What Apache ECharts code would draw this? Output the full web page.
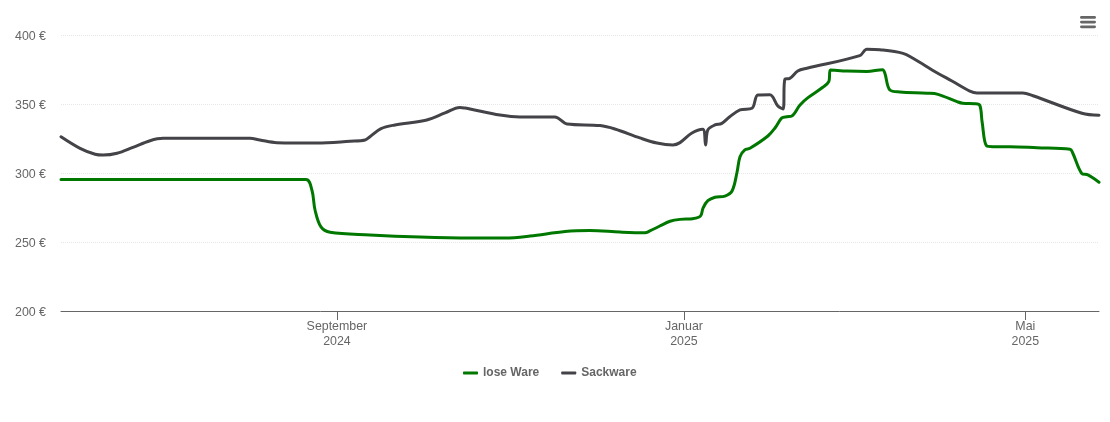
<!DOCTYPE html>
<html>
<head>
<meta charset="utf-8">
<title>Preisverlauf</title>
<script src="https://cdn.jsdelivr.net/npm/echarts@6/dist/echarts.min.js"></script>
<style>
html,body{margin:0;padding:0;background:#fff;}
#chart{width:1110px;height:422px;}
</style>
</head>
<body>
<div id="chart"></div>
<script>
// x values are days counted from 2024-05-27, the left edge of the chart
var rangeDays = 364.9;

var looseDays = [0,86.1,88.2,89.3,91.4,94.6,108.6,126.2,143.8,156.1,164.9,177.2,185.9,196.5,205.3,207,210.5,214.1,217.6,222.1,224.8,225.7,227.4,229.9,233.4,235.9,237.6,238.7,240.4,242.2,248.5,251,253.4,255.2,256.9,259.8,262.6,267.8,269.9,270.5,276.3,283.3,288.8,289.6,291.4,294.9,304.4,308.3,315,317,321.3,323,323.8,325.4,327.6,333.6,343.1,354.7,355.7,358.8,361,364.9];
var looseValues = [295.3,295.3,287.7,273.2,260.9,257,255.1,253.6,252.9,252.9,254.3,257.6,258.3,257.2,256.7,258,261.6,265,266.4,266.9,268.8,274.6,279.9,282.4,283.3,287,300,311.8,316.7,317.9,326.8,332.6,339.9,340.8,341.3,349.3,354.6,362.1,366.2,374.6,373.9,373.6,374.9,372.5,360.1,358.7,357.8,357,351.7,350.5,350.2,349,337.2,319.6,319.1,319.1,318.3,317.2,314.3,299.8,298.6,293.3];

var sackDays = [0,6.7,12,14.8,19.7,25.3,31.3,35.9,66.4,69.9,75.9,90,101.6,106.9,108.6,112.5,117.4,128.6,135,140.2,142,143.8,154.3,161.3,173.6,177.9,189.5,194.7,203.5,209.5,215.1,217.6,221.8,225.6,226.6,227.4,229.9,232.3,235.1,238.7,242.9,245,249.2,252,253.8,254.5,256.2,259,262.2,280.8,283.3,287.9,296,299.5,307.9,313.2,319.5,322,338.1,341.7,358.9,364.9];
var sackValues = [326.3,317.9,313.6,313,314.3,318.6,323.4,325.1,325.1,323.9,322,321.7,323,323.9,326.3,332.2,334.8,338.4,343.5,347.5,347.1,346.4,342,340.6,340.6,335.5,334.4,331.9,325.4,321.7,320.3,322,329,331.7,320.3,331.2,334.8,336,340.8,345.7,346.9,356.5,356.7,348.6,346.4,368.1,368.6,373.9,375.9,385.1,389.7,389.3,386.7,383.1,372.7,366.7,359.4,358,358,356,343.3,341.8];

// 1 Sep 2024, 1 Jan 2025, 1 May 2025
var tickDays = [97,219,339];
var tickMonths = ['September','Januar','Mai'];
var tickYears = ['2024','2025','2025'];

function toPoints(days,values){
	var out = [];
	for(var i = 0;i<days.length;i++){
		out.push([days[i],values[i]]);
	}
	return out;
}

function lineSeries(name,color,days,values){
	return {
		name:name,
		type:'line',
		data:toPoints(days,values),
		showSymbol:false,
		smooth:0.35,
		lineStyle:{width:3,color:color,cap:'round',join:'round'},
		itemStyle:{color:color}
	};
}

var myChart = echarts.init(document.getElementById('chart'),null,{renderer:'canvas'});
myChart.setOption({
	animation:false,
	textStyle:{fontFamily:'"Liberation Sans",Arial,sans-serif'},
	grid:{left:61,right:11,top:35,height:276,containLabel:false},
	legend:{
		left:458,
		top:362,
		itemWidth:15,
		itemHeight:3,
		itemGap:22,
		icon:'roundRect',
		textStyle:{color:'#666666',fontSize:12,fontWeight:'bold'},
		data:['lose Ware','Sackware']
	},
	toolbox:{
		padding:0,
		right:14,
		top:16,
		itemSize:16,
		feature:{
			myMenu:{
				show:true,
				title:'',
				icon:'path://M0 1.5A1.5 1.5 0 0 1 1.5 0H15.5A1.5 1.5 0 0 1 15.5 3H1.5A1.5 1.5 0 0 1 0 1.5ZM0 6.5A1.5 1.5 0 0 1 1.5 5H15.5A1.5 1.5 0 0 1 15.5 8H1.5A1.5 1.5 0 0 1 0 6.5ZM0 11.5A1.5 1.5 0 0 1 1.5 10H15.5A1.5 1.5 0 0 1 15.5 13H1.5A1.5 1.5 0 0 1 0 11.5Z',
				iconStyle:{color:'#666666',borderWidth:0},
				onclick:function(){}
			}
		}
	},
	xAxis:{
		type:'value',
		min:0,
		max:rangeDays,
		splitLine:{show:false},
		axisLine:{lineStyle:{color:'#666666',width:1}},
		axisTick:{show:true,length:9,lineStyle:{color:'#666666'},customValues:tickDays},
		axisLabel:{
			color:'#666666',
			fontSize:12.4,
			lineHeight:15,
			margin:8,
			hideOverlap:false,
			customValues:tickDays,
			formatter:function(value){
				var i = tickDays.indexOf(value);
				return tickMonths[i]+'\n'+tickYears[i];
			}
		}
	},
	yAxis:{
		type:'value',
		min:200,
		max:400,
		interval:50,
		axisLine:{show:false},
		axisTick:{show:false},
		axisLabel:{
			margin:15,
			formatter:'{a|{value} €}',
			rich:{a:{color:'#666666',fontSize:12.4,padding:[3,0,0,0]}}
		},
		splitLine:{lineStyle:{color:'#e6e6e6',type:'dotted',width:1}}
	},
	series:[
		lineSeries('lose Ware','#007800',looseDays,looseValues),
		lineSeries('Sackware','#434348',sackDays,sackValues)
	]
});
</script>
</body>
</html>
